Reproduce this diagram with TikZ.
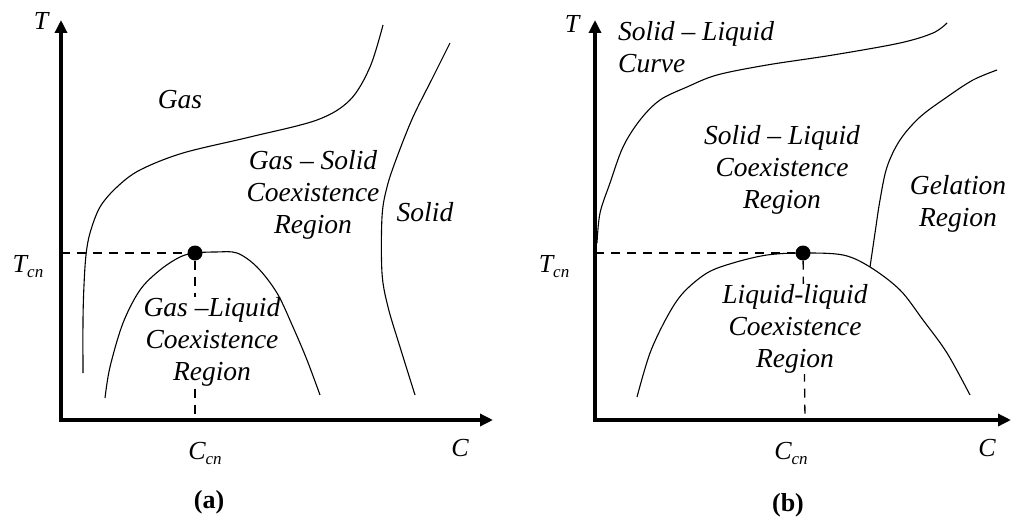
\documentclass[tikz,border=0pt]{standalone}
\usepackage{fontspec}
\setmainfont{Liberation Serif}
\usetikzlibrary{arrows.meta}
\newcommand{\subcn}[1]{#1\raisebox{-5pt}{\fontsize{17}{17}\selectfont cn}}
\begin{document}
\begin{tikzpicture}[x=1pt,y=-1pt,
  axis/.style={line width=4pt,-{Triangle[length=13pt,width=12pt]}},
  curve/.style={line width=1.1pt,smooth,tension=0.55},
  guide/.style={line width=1.3pt,dash pattern=on 9pt off 7pt},
  region/.style={font=\fontsize{27.5}{32}\selectfont\itshape,align=center,inner sep=1pt},
  boxed/.style={region,fill=white},
  axlbl/.style={font=\fontsize{26}{26}\selectfont\itshape,inner sep=0pt},
  panel/.style={font=\fontsize{26}{26}\selectfont\bfseries,inner sep=0pt},
  crit/.style={circle,fill=black,minimum size=15pt,inner sep=0pt}]
\useasboundingbox (0,0) rectangle (1011,519);

% ---------------- panel (a) ----------------
\coordinate (aTy) at (61,253);
\coordinate (aCx) at (195,420);
\node[crit] (acrit) at (195,253) {};
\draw[guide] (aTy) -- (acrit);
\draw[guide] (acrit) -- (aCx);

\node[boxed] (aGL) at (212,342) {Gas –Liquid\\Coexistence\\Region};
\node[region] (aGas) at (180,100) {Gas};
\node[region] (aGS) at (313,195) {Gas – Solid\\Coexistence\\Region};
\node[region] (aSolid) at (425,212) {Solid};

\draw[curve] plot coordinates {(83,373) (83,320) (84,285) (86,255) (90,233) (100,207) (117,187) (140,170) (183,153) (250,137) (317,120) (350,100) (370,67) (383,25)};
\draw[curve] plot coordinates {(450,43) (433,77) (413,117) (397,157) (387,187) (382,217) (382,273) (388,307) (400,347) (415,395)};
\draw[curve] plot coordinates {(105,398) (110,367) (123,323) (140,290) (160,270) (180,257) (195,253) (216,252) (237,253) (257,267) (277,293) (293,327) (307,360) (320,395)};

\draw[axis] (61,422) -- (61,20);
\draw[axis] (59,420) -- (493,420);

\node[axlbl] (aT) at (41,21) {T};
\node[axlbl] (aTcn) at (28,267) {\subcn{T}};
\node[axlbl] (aCcn) at (205,453) {\subcn{C}};
\node[axlbl] (aC) at (460,448) {C};
\node[panel] (alab) at (209,502) {(a)};

% ---------------- panel (b) ----------------
\coordinate (bTy) at (595,253);
\coordinate (bCx) at (805,420);
\node[crit] (bcrit) at (803,253) {};
\draw[guide] (bTy) -- (bcrit);
\draw[guide] (bcrit) -- (bCx);

\node[boxed] (bLL) at (795,329) {Liquid-liquid\\Coexistence\\Region};
\node[region,align=left,anchor=north west] (bSLC) at (617,20) {Solid – Liquid\\Curve};
\node[region] (bSL) at (782,170) {Solid – Liquid\\Coexistence\\Region};
\node[region] (bGel) at (958,204) {Gelation\\Region};

\draw[curve] plot coordinates {(597,243) (600,213) (610,183) (623,147) (640,120) (660,100) (687,87) (717,75) (767,65) (833,55) (900,43) (933,33) (947,23)};
\draw[curve] plot coordinates {(870,267) (875,233) (880,200) (887,167) (900,140) (920,117) (947,97) (973,80) (997,70)};
\draw[curve] plot coordinates {(637,397) (650,353) (667,317) (683,293) (707,273) (733,263) (767,255) (803,253) (843,255) (870,267) (900,290) (923,320) (947,353) (970,395)};

\draw[axis] (595,422) -- (595,20);
\draw[axis] (593,420) -- (1011,420);

\node[axlbl] (bT) at (572,24) {T};
\node[axlbl] (bTcn) at (554,267) {\subcn{T}};
\node[axlbl] (bCcn) at (791,453) {\subcn{C}};
\node[axlbl] (bC) at (987,448) {C};
\node[panel] (blab) at (788,505) {(b)};
\end{tikzpicture}
\end{document}
